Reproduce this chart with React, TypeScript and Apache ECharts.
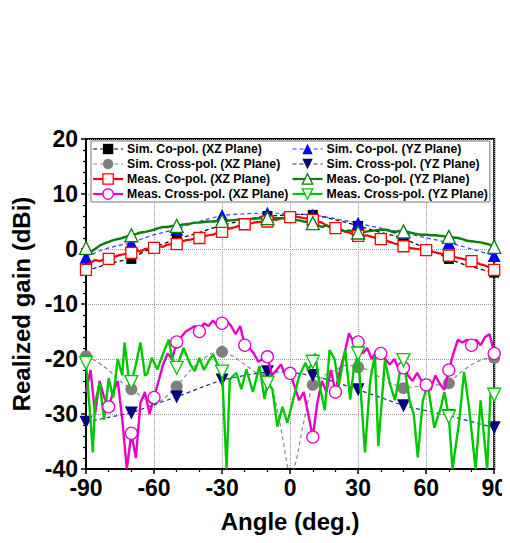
import React, { useEffect, useRef } from "react";
import * as echarts from "echarts";

const FONT = "'Liberation Sans', Arial, Helvetica, sans-serif";

// ---- Simulated data ----
const simAngles = [-90, -85, -80, -75, -70, -65, -60, -55, -50, -45, -40, -35, -30, -25, -20, -15, -10, -5, 0, 5, 10, 15, 20, 25, 30, 35, 40, 45, 50, 55, 60, 65, 70, 75, 80, 85, 90];
const simCoXZ = [-4.0, -3.3, -2.7, -2.2, -1.8, -0.6, 0.3, 1.1, 1.8, 2.4, 3.0, 3.7, 4.3, 4.8, 5.3, 5.7, 6.0, 6.1, 6.2, 6.3, 6.2, 5.8, 5.3, 4.8, 4.2, 3.6, 3.0, 2.5, 1.9, 1.0, 0.1, -0.8, -1.8, -2.6, -3.2, -3.8, -4.3];
const simCoYZ = [-1.5, -0.5, 0.2, 0.7, 1.1, 1.9, 2.6, 3.1, 3.6, 4.4, 5.0, 5.6, 6.1, 6.3, 6.4, 6.5, 6.5, 6.5, 6.4, 6.3, 6.2, 5.9, 5.5, 5.1, 4.7, 4.2, 3.8, 3.4, 2.9, 2.5, 2.0, 1.6, 1.1, 0.6, 0.0, -0.6, -1.2];

const simCrossXZAngles = [-90, -85, -80, -75, -70, -65, -60, -55, -50, -45, -40, -35, -30, -25, -20, -15, -10, -7, -5, -3, -1, 0, 1, 3, 5, 8, 10, 15, 20, 25, 30, 35, 40, 45, 50, 55, 60, 65, 70, 75, 80, 85, 90];
const simCrossXZ = [-19.5, -20.5, -22, -24, -25.5, -27, -28.5, -27, -25, -22.5, -20.5, -19, -18.7, -19.5, -21, -22.5, -23.3, -26.5, -30.5, -35, -40, -50, -41, -38, -33.5, -27.5, -24.7, -23, -22, -21, -21.5, -22, -23.5, -24.5, -25.3, -25, -25, -24.7, -24.4, -22.5, -21, -20, -19.8];

const simCrossYZAngles = [-90, -80, -70, -60, -50, -40, -30, -20, -10, 0, 10, 20, 30, 40, 50, 60, 70, 80, 90];
const simCrossYZ = [-31.5, -30.6, -29.8, -28.3, -26.9, -25.3, -23.8, -23.0, -22.3, -22.4, -23.0, -24.2, -25.6, -27.0, -28.5, -29.4, -30.3, -31.4, -32.5];

// ---- Measured data (2 deg steps) ----
const measAngles: number[] = [];
for (let a = -90; a <= 90; a += 2) measAngles.push(a);

const measCoXZ = [
  -3.8, -2.5, -2.0, -2.2, -1.9, -1.8, -1.5, -1.2, -1.0, -0.9,
  -0.7, -0.2, -0.5, 0.0, 0.1, 0.2, 0.5, 0.4, 0.8, 0.9,
  0.9, 1.3, 1.6, 1.7, 1.9, 2.0, 2.3, 2.5, 2.6, 3.0,
  3.1, 3.6, 3.8, 4.0, 4.3, 4.5, 4.6, 4.8, 4.9, 5.0,
  5.0, 5.4, 5.3, 5.6, 5.7,
  5.8,
  5.9, 5.8, 5.6, 5.5, 5.3, 5.0, 4.8, 4.3, 4.0, 3.8,
  3.6, 3.2, 3.0, 2.6, 2.4, 2.3, 2.5, 2.2, 2.0, 1.8,
  1.6, 1.3, 1.0, 0.8, 0.5, 0.3, 0.1, 0.0, -0.1, -0.2,
  -0.4, -0.6, -0.8, -1.0, -1.2, -1.4, -1.6, -1.8, -2.0, -2.2,
  -2.4, -2.8, -3.0, -3.4, -3.8,
];

const measCoYZ = [
  0.2, -0.6, 0.0, 0.6, 1.0, 1.3, 1.6, 1.8, 2.0, 2.3,
  2.5, 2.7, 3.0, 3.1, 3.3, 3.5, 3.8, 4.0, 4.0, 4.2,
  4.2, 4.4, 4.5, 4.6, 4.8, 4.8, 4.9, 5.0, 5.0, 5.1,
  5.1, 5.2, 5.2, 5.3, 5.4, 5.4, 5.4, 5.5, 5.6, 5.6,
  5.6, 5.7, 5.6, 5.6, 5.6,
  5.5,
  5.3, 5.2, 5.0, 4.9, 4.7, 4.4, 4.0, 4.3, 3.9, 4.0,
  3.6, 3.2, 3.4, 3.1, 3.0, 3.0, 3.2, 3.3, 3.4, 3.5,
  3.5, 3.3, 3.0, 3.3, 3.2, 3.1, 2.9, 2.7, 2.6, 2.6,
  2.5, 2.5, 2.4, 2.3, 2.2, 2.1, 2.0, 1.8, 1.5, 1.4,
  1.3, 1.2, 1.0, 0.8, 0.4,
];

const measCrossXZ = [
  -26, -22, -30, -24, -27, -28.7, -26, -24, -31, -40,
  -33.5, -38, -28, -26, -30, -27, -24, -21, -19, -20,
  -16.9, -16, -15, -14.5, -14, -15, -13.5, -14, -13, -14,
  -13.5, -13, -14, -15.5, -14, -17.5, -18, -19, -20.5, -20,
  -19.6, -23, -22, -21, -23,
  -22.6,
  -25, -27.5, -26, -30, -34.2, -28, -24, -26, -22, -26,
  -22, -19, -15.3, -17, -16.9, -19, -18, -20, -18.5, -19,
  -20, -21, -20, -22, -21.6, -23, -24, -22.5, -24, -24.7,
  -25.6, -23, -24.5, -25.6, -22, -19, -16.5, -17, -16.5, -17.5,
  -16.5, -17.5, -16, -15.5, -19,
];

const measCrossYZ: [number, number][] = [
  [-90, -20.7], [-88, -31], [-87, -37], [-86, -28], [-84, -24.4], [-82, -31], [-80, -23.5], [-78, -27],
  [-76, -20], [-74, -23], [-73, -17], [-71, -24], [-70, -24.2], [-68, -21], [-66, -17], [-64, -23],
  [-63, -22.7], [-61, -19.8], [-58.5, -21.9], [-56, -19], [-53.5, -16.5], [-52, -20], [-50, -21.6],
  [-47, -18], [-44, -21], [-42, -22.2], [-40, -19.8], [-38, -22], [-36, -20.4], [-34, -19.2], [-32, -21],
  [-30, -22.3], [-28, -40], [-26.6, -23.7], [-23.7, -22.5], [-21.5, -25.5], [-19.3, -21.9], [-16.4, -26],
  [-13.5, -21.3], [-11.3, -27.3], [-10, -24.4], [-7.8, -25.5], [-5.6, -32.3], [-3.4, -28.7], [-1.2, -31.6],
  [1, -28], [3.9, -23.2], [6.8, -20.7], [8, -22], [10, -20.5], [11, -19], [13.1, -25], [15.3, -29.3],
  [17.4, -18.4], [19.6, -20], [21.4, -25], [24.3, -18.3], [26.5, -27.4], [28, -22], [30, -19], [33, -37],
  [35.3, -24], [37.4, -19.2], [38.9, -35.8], [41.8, -20.2], [44, -24.5], [46.2, -27.5], [48.4, -22.5],
  [50, -20.2], [52.7, -27.6], [54.5, -30], [56.3, -37.9], [58.5, -27.6], [60.7, -24.6], [63.6, -32.5],
  [66.5, -28.8], [68, -26], [70, -30.5], [71.6, -40], [74.5, -31.5], [76.7, -22.4], [78.9, -28.8],
  [81.8, -40], [84, -27.5], [86.9, -40], [88.4, -26], [90, -26.5],
];

// marker positions (deg)
const markersEvery20 = [-90, -70, -50, -30, -10, 10, 30, 50, 70, 90];
const markersEvery10 = [-90, -80, -70, -60, -50, -40, -30, -20, -10, 0, 10, 20, 30, 40, 50, 60, 70, 80, 90];
const markersCircle = [-80, -70, -60, -50, -40, -30, -20, -10, 0, 10, 20, 30, 40, 50, 60, 70, 80, 90];

const names = {
  sCoXZ: "Sim. Co-pol. (XZ Plane)",
  sCrXZ: "Sim. Cross-pol. (XZ Plane)",
  mCoXZ: "Meas. Co-pol. (XZ Plane)",
  mCrXZ: "Meas. Cross-pol. (XZ Plane)",
  sCoYZ: "Sim. Co-pol. (YZ Plane)",
  sCrYZ: "Sim. Cross-pol. (YZ Plane)",
  mCoYZ: "Meas. Co-pol. (YZ Plane)",
  mCrYZ: "Meas. Cross-pol. (YZ Plane)",
};

const zip = (xs: number[], ys: number[]) => xs.map((x, i) => [x, ys[i]]);
const sizeAt = (set: number[], size: number) => (v: number[]) => (set.includes(v[0]) ? size : 0);

export default function App() {
  const ref = useRef<HTMLDivElement>(null);
  useEffect(() => {
    if (!ref.current) return;
    const chart = echarts.init(ref.current, undefined, { renderer: "svg" });

    const dash = [4, 3];
    const simLine = (name: string, data: number[][], color: string, lineColor: string, symbol: string, size: number, markers: number[], rotate = 0) => ({
      type: "line",
      name,
      data,
      symbol,
      symbolRotate: rotate,
      symbolSize: sizeAt(markers, size),
      itemStyle: { color },
      lineStyle: { color: lineColor, width: 1.2, type: dash },
      silent: true,
      z: 2,
    });
    const measLine = (name: string, data: number[][], color: string, width: number, symbol: string, size: number, markers: number[], rotate = 0) => ({
      type: "line",
      name,
      data,
      symbol,
      symbolRotate: rotate,
      symbolSize: sizeAt(markers, size),
      itemStyle: { color: "#fff", borderColor: color, borderWidth: 1.3 },
      lineStyle: { color, width },
      silent: true,
      z: 3,
    });

    const magenta = "#e600c8";
    const brightGreen = "#00c800";
    const darkGreen = "#0a7d0a";

    const axisText = { fontSize: 23, fontWeight: "bold", color: "#000", fontFamily: FONT };
    const nameText = { fontSize: 24, fontWeight: "bold", color: "#000", fontFamily: FONT };

    chart.setOption({
      animation: false,
      backgroundColor: "#fff",
      grid: { left: 86, right: 13, top: 139, bottom: 74, show: true, borderColor: "#000", borderWidth: 2, backgroundColor: "transparent" },
      legend: {
        orient: "vertical",
        left: 91,
        top: 141,
        height: 58,
        padding: [2, 2, 2, 1],
        itemGap: 3,
        itemWidth: 30,
        itemHeight: 13,
        backgroundColor: "#fff",
        borderColor: "#777",
        borderWidth: 1,
        selectedMode: false,
        textStyle: { fontSize: 12.25, fontWeight: "bold", color: "#000", fontFamily: FONT, padding: [0, 0, 0, -1] },
        itemStyle: { borderWidth: 1.3 },
        data: [
          { name: names.sCoXZ, lineStyle: { width: 1 } },
          { name: names.sCrXZ, lineStyle: { width: 1 } },
          { name: names.mCoXZ, lineStyle: { width: 2.2 } },
          { name: names.mCrXZ, lineStyle: { width: 2.2 } },
          { name: names.sCoYZ, lineStyle: { width: 1 } },
          { name: names.sCrYZ, lineStyle: { width: 1 } },
          { name: names.mCoYZ, lineStyle: { width: 2.2 } },
          { name: names.mCrYZ, lineStyle: { width: 2.2 } },
        ],
      },
      xAxis: {
        type: "value",
        min: -90,
        max: 90,
        interval: 30,
        name: "Angle (deg.)",
        nameLocation: "middle",
        nameGap: 40,
        nameTextStyle: nameText,
        axisLine: { show: true, onZero: false, lineStyle: { color: "#000", width: 2 } },
        axisTick: { show: true, length: 5, lineStyle: { color: "#000", width: 1.5 } },
        minorTick: { show: true, splitNumber: 3, length: 3, lineStyle: { color: "#000", width: 1.2 } },
        axisLabel: { ...axisText, margin: 7 },
        splitLine: { show: true, lineStyle: { color: "#999", type: "dotted", width: 1 } },
      },
      yAxis: {
        type: "value",
        min: -40,
        max: 20,
        interval: 10,
        name: "Realized gain (dBi)",
        nameLocation: "middle",
        nameRotate: 90,
        nameGap: 45,
        nameTextStyle: nameText,
        axisLine: { show: true, onZero: false, lineStyle: { color: "#000", width: 2 } },
        axisTick: { show: true, length: 5, lineStyle: { color: "#000", width: 1.5 } },
        minorTick: { show: true, splitNumber: 5, length: 3, lineStyle: { color: "#000", width: 1.2 } },
        axisLabel: { ...axisText, margin: 8 },
        splitLine: { show: true, lineStyle: { color: "#999", type: "dotted", width: 1 } },
      },
      series: [
        simLine(names.sCoXZ, zip(simAngles, simCoXZ), "#000", "#000", "rect", 10, markersEvery20),
        simLine(names.sCrXZ, zip(simCrossXZAngles, simCrossXZ), "#7f7f7f", "#888", "circle", 12, markersEvery20),
        simLine(names.sCoYZ, zip(simAngles, simCoYZ), "#0000ff", "#3040ff", "triangle", 13, markersEvery20),
        simLine(names.sCrYZ, zip(simCrossYZAngles, simCrossYZ), "#000080", "#1a2aa8", "triangle", 13, markersEvery20, 180),
        measLine(names.mCoXZ, zip(measAngles, measCoXZ), "#ff0000", 2.2, "rect", 11, markersEvery10),
        measLine(names.mCrXZ, zip(measAngles, measCrossXZ), magenta, 2.4, "circle", 12, markersCircle),
        measLine(names.mCoYZ, zip(measAngles, measCoYZ), darkGreen, 2.4, "triangle", 13, markersEvery20),
        measLine(names.mCrYZ, measCrossYZ, brightGreen, 2.4, "triangle", 13, markersEvery20, 180),
      ],
    } as any);

    return () => chart.dispose();
  }, []);

  return <div ref={ref} style={{ width: 510, height: 543, margin: -8 }} />;
}
